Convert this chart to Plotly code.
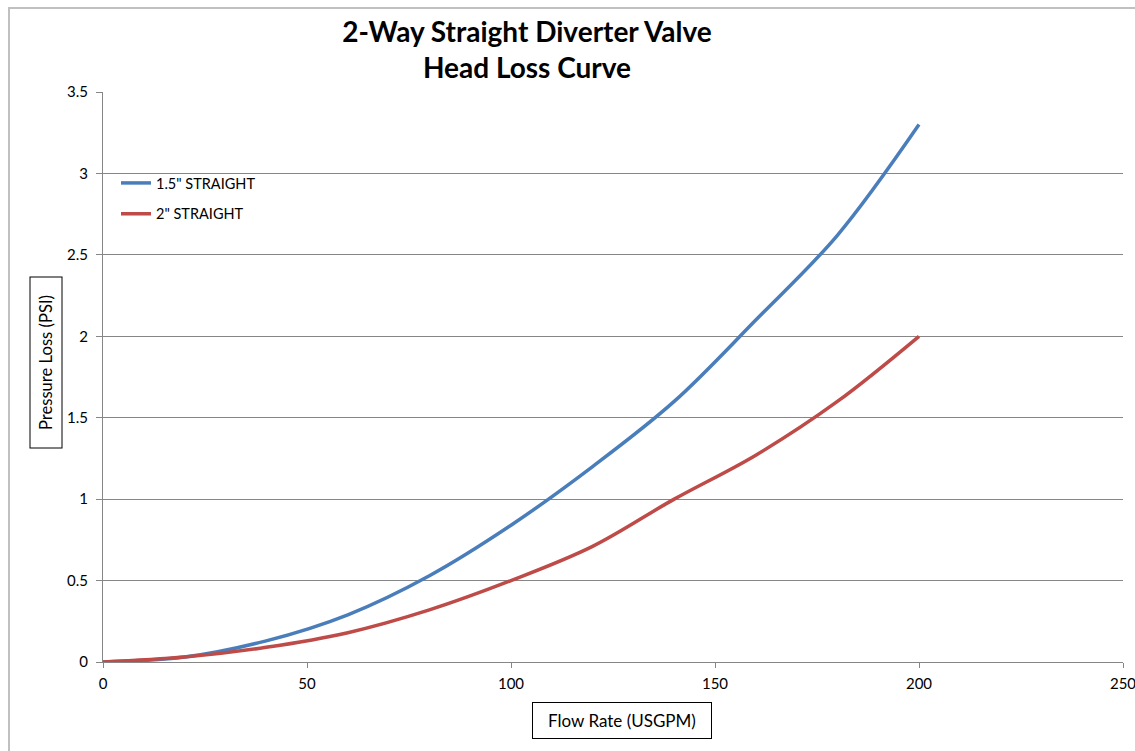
import plotly.graph_objects as go

flow = [0, 20, 40, 60, 80, 100, 120, 140, 160, 180, 200]
loss_15 = [0, 0.03, 0.13, 0.29, 0.53, 0.84, 1.2, 1.6, 2.1, 2.62, 3.3]
loss_2 = [0, 0.03, 0.09, 0.18, 0.32, 0.5, 0.71, 1.0, 1.27, 1.6, 2.0]
series_names = ['1.5" STRAIGHT', '2" STRAIGHT']
colors = ["#4a7ebb", "#be4b48"]
x_ticks = [0, 50, 100, 150, 200, 250]
y_ticks = [0, 0.5, 1, 1.5, 2, 2.5, 3, 3.5]

W, H = 1135, 751
L, R, T, B = 103, 12, 92, 89
pw, ph = W - L - R, H - T - B

def px(x):
    return (x - L) / pw

def py(y):
    return (H - B - y) / ph

FONT = "Lato, 'Open Sans', sans-serif"

fig = go.Figure()
for name, ys, c, g in zip(series_names, [loss_15, loss_2], colors, ["a", "b"]):
    fig.add_trace(go.Scatter(
        x=flow, y=ys, mode="lines", name=name, legendgroup=g,
        line=dict(color=c, width=3.5, shape="spline", smoothing=1.0),
    ))

fig.update_layout(
    width=W, height=H,
    margin=dict(l=L, r=R, t=T, b=B, autoexpand=False),
    paper_bgcolor="white", plot_bgcolor="white",
    font=dict(family=FONT, size=15, color="#000000"),
    title=dict(
        text="<b>2-Way Straight Diverter Valve<br>Head Loss Curve</b>",
        x=527 / W, xanchor="center", yref="container", y=1 - 42 / H, yanchor="middle",
        font=dict(family=FONT, size=28, color="#000000"),
    ),
    showlegend=True,
    legend=dict(
        x=px(116), y=py(167), xanchor="left", yanchor="top",
        bgcolor="rgba(0,0,0,0)", font=dict(family=FONT, size=14.5, color="#000000"),
        traceorder="grouped", tracegroupgap=9,
    ),
    xaxis=dict(
        range=[0, 250], tickvals=x_ticks, ticktext=[str(v) for v in x_ticks],
        showgrid=False, zeroline=False, showline=True, linecolor="#868686", linewidth=1,
        ticks="outside", ticklen=5, tickcolor="#868686", ticklabelstandoff=3,
        ticklabeloverflow="allow", automargin=False,
        tickfont=dict(family=FONT, size=15, color="#000000"),
    ),
    yaxis=dict(
        range=[0, 3.5], tickvals=y_ticks, ticktext=[f"{v:g}" for v in y_ticks],
        showgrid=True, gridcolor="#868686", gridwidth=1, zeroline=False,
        showline=True, linecolor="#868686", linewidth=1, automargin=False,
        ticks="outside", ticklen=6, tickcolor="#868686", ticklabelstandoff=5,
        tickfont=dict(family=FONT, size=15, color="#000000"),
    ),
    shapes=[
        dict(type="rect", xref="paper", yref="paper",
             x0=px(9), x1=px(1150), y0=py(770), y1=py(8),
             line=dict(color="#c0c0c0", width=2), layer="below"),
    ],
    annotations=[
        dict(text="Pressure Loss (PSI)", xref="paper", yref="paper",
             x=px(45.5), y=py(363), xanchor="center", yanchor="middle",
             showarrow=False, textangle=-90,
             width=164, height=25, borderpad=3,
             bordercolor="#000000", borderwidth=1,
             font=dict(family=FONT, size=16.6, color="#000000")),
        dict(text="Flow Rate (USGPM)", xref="paper", yref="paper",
             x=px(621.5), y=py(720.5), xanchor="center", yanchor="middle",
             showarrow=False,
             width=172, height=29, borderpad=3,
             bordercolor="#000000", borderwidth=1,
             font=dict(family=FONT, size=17, color="#000000")),
    ],
)

fig.write_html("out.html", config={"displayModeBar": False},
               post_script="document.body.style.margin='0';")
